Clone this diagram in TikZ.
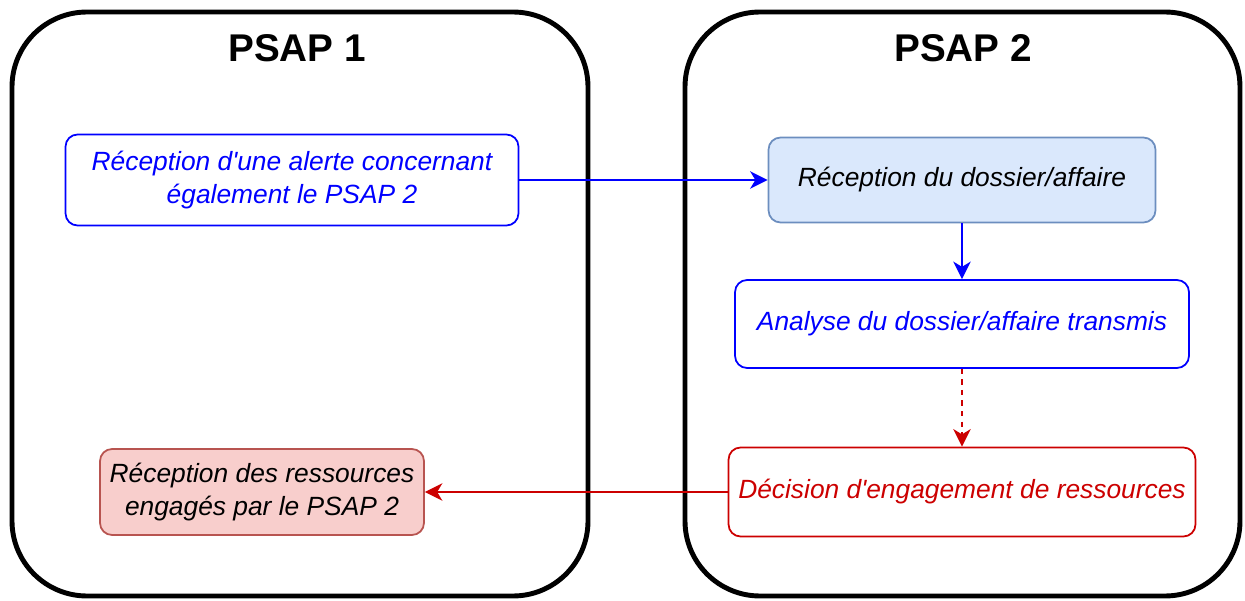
\documentclass[tikz,border=0pt]{standalone}
\usepackage{fontspec}
\setmainfont{Liberation Sans}
\usetikzlibrary{arrows.meta}
\definecolor{psapblue}{HTML}{0000FF}
\definecolor{psapred}{HTML}{CC0000}
\definecolor{fillblue}{HTML}{DAE8FC}
\definecolor{lineblue}{HTML}{6C8EBF}
\definecolor{fillred}{HTML}{F8CECC}
\definecolor{linered}{HTML}{B85450}
\begin{document}
\begin{tikzpicture}[x=0.02cm,y=-0.02cm,
  psap/.style={line width=2.8pt,rounded corners=1.5cm},
  titre/.style={font=\bfseries\fontsize{22}{26}\selectfont},
  etape/.style={draw,line width=1pt,rounded corners=0.24cm,align=center,
    font=\itshape\fontsize{15}{18.7}\selectfont,inner sep=0pt},
  fl/.style={-{Stealth[length=10pt,width=10pt,inset=3pt]},line width=0.9pt}]
\useasboundingbox (0,0) rectangle (1245,601);
\draw[psap] (12,12) rectangle (588,596);
\draw[psap] (685,12) rectangle (1240,596);
\node[titre] (t1) at (297,48) {PSAP 1};
\node[titre] (t2) at (963,48) {PSAP 2};
\node[etape,draw=psapblue,text=psapblue,minimum width=9.06cm,minimum height=1.82cm] (alerte) at (292,180)
  {Réception d\textquotesingle une alerte concernant\\également le PSAP 2};
\node[etape,draw=lineblue,fill=fillblue,minimum width=7.74cm,minimum height=1.7cm] (dossier) at (962,180)
  {Réception du dossier/affaire};
\node[etape,draw=psapblue,text=psapblue,minimum width=9.08cm,minimum height=1.76cm] (analyse) at (962,324)
  {Analyse du dossier/affaire transmis};
\node[etape,draw=psapred,text=psapred,minimum width=9.34cm,minimum height=1.78cm] (decision) at (962,492)
  {Décision d\textquotesingle engagement de ressources};
\node[etape,draw=linered,fill=fillred,minimum width=6.48cm,minimum height=1.72cm] (ressources) at (262,492)
  {Réception des ressources\\engagés par le PSAP 2};
\draw[fl,psapblue] (alerte.east) -- (dossier.west);
\draw[fl,psapblue] (dossier.south) -- (analyse.north);
\draw[fl,psapred,dashed] (analyse.south) -- (decision.north);
\draw[fl,psapred] (decision.west) -- (ressources.east);
\end{tikzpicture}
\end{document}
